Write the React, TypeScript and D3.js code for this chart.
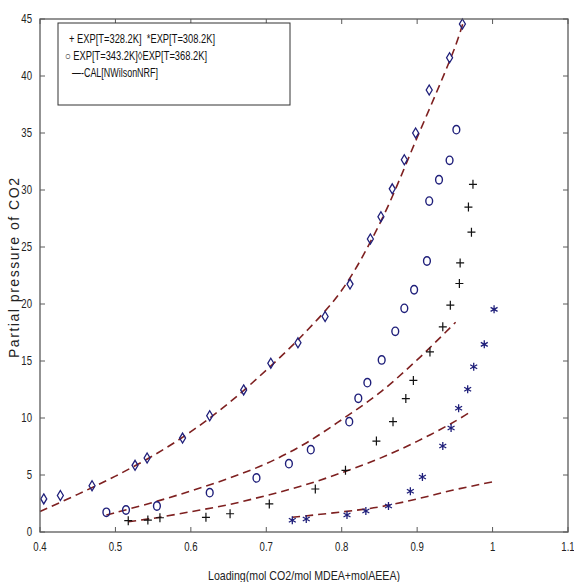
import React from "react";
import * as d3 from "d3";

// Experimental data (loading, partial pressure)
const exp328X = [0.517, 0.543, 0.559, 0.620, 0.652, 0.704, 0.765, 0.805, 0.846, 0.868, 0.885, 0.895, 0.917, 0.934, 0.944, 0.956, 0.957, 0.972, 0.968, 0.974];
const exp328Y = [0.99, 1.05, 1.25, 1.29, 1.6, 2.46, 3.77, 5.41, 7.98, 9.68, 11.7, 13.3, 15.8, 18.0, 19.9, 21.8, 23.6, 26.3, 28.5, 30.5];

const exp308X = [0.7345, 0.753, 0.807, 0.832, 0.862, 0.891, 0.907, 0.934, 0.945, 0.955, 0.967, 0.975, 0.989, 1.002];
const exp308Y = [1.03, 1.14, 1.49, 1.84, 2.28, 3.57, 4.82, 7.54, 9.12, 10.85, 12.52, 14.5, 16.46, 19.53];

const exp343X = [0.488, 0.514, 0.555, 0.625, 0.687, 0.730, 0.759, 0.810, 0.822, 0.834, 0.853, 0.871, 0.883, 0.896, 0.913, 0.916, 0.929, 0.943, 0.952];
const exp343Y = [1.73, 1.93, 2.28, 3.45, 4.74, 5.99, 7.22, 9.68, 11.73, 13.1, 15.09, 17.6, 19.62, 21.25, 23.77, 29.03, 30.9, 32.6, 35.29];

const exp368X = [0.405, 0.427, 0.469, 0.526, 0.542, 0.589, 0.625, 0.670, 0.706, 0.742, 0.778, 0.811, 0.838, 0.852, 0.867, 0.883, 0.898, 0.916, 0.943, 0.960];
const exp368Y = [2.9, 3.2, 4.06, 5.85, 6.49, 8.24, 10.2, 12.46, 14.8, 16.6, 18.9, 21.75, 25.7, 27.65, 30.1, 32.65, 35.0, 38.77, 41.6, 44.56];

// Calculated curves (NWilsonNRF)
const cal368X = [0.40, 0.45, 0.50, 0.55, 0.60, 0.65, 0.70, 0.75, 0.80, 0.85, 0.90, 0.95, 0.962];
const cal368Y = [1.8, 3.3, 4.9, 6.7, 8.8, 11.3, 14.2, 17.4, 21.2, 27.0, 34.6, 42.5, 44.9];
const cal343X = [0.488, 0.50, 0.55, 0.60, 0.65, 0.70, 0.75, 0.80, 0.85, 0.90, 0.951];
const cal343Y = [1.49, 1.7, 2.6, 3.6, 4.7, 6.0, 7.7, 9.85, 12.2, 15.1, 18.4];
const cal328X = [0.517, 0.55, 0.60, 0.65, 0.70, 0.75, 0.80, 0.85, 0.90, 0.95, 0.972];
const cal328Y = [0.9, 1.2, 1.78, 2.4, 3.2, 4.1, 5.2, 6.45, 7.95, 9.7, 10.6];
const cal308X = [0.7345, 0.80, 0.85, 0.90, 0.948, 1.001];
const cal308Y = [1.29, 1.76, 2.2, 2.9, 3.68, 4.41];

const xTicks = [0.4, 0.5, 0.6, 0.7, 0.8, 0.9, 1, 1.1];
const yTicks = [0, 5, 10, 15, 20, 25, 30, 35, 40, 45];

const legendLines = [
  "+ EXP[T=328.2K]  *EXP[T=308.2K]",
  "\u25CB EXP[T=343.2K]\u25CAEXP[T=368.2K]",
  "\u2014-CAL[NWilsonNRF]",
];
const legendX = [69, 65, 72];
const legendLen = [146, 142, 86];

const W = 574, H = 582;
const L = 40, R = 568, T = 19, B = 532;
const NAVY = "#1f1f7a";
const RED = "#7e2020";
const AX = "#5a5a5a";
const FONT = "'Liberation Sans', Arial, sans-serif";

const zip = (xs: number[], ys: number[]) => xs.map((x, i) => [x, ys[i]] as [number, number]);

function NText({ x, y, s, anchor = "start", size = 12, sx = 0.8, fill = "#222" }: any) {
  return (
    <text transform={`translate(${x},${y}) scale(${sx},1)`} textAnchor={anchor} fontFamily={FONT} fontSize={size} fill={fill}>{s}</text>
  );
}

export default function App() {
  const x = d3.scaleLinear().domain([0.4, 1.1]).range([L, R]);
  const y = d3.scaleLinear().domain([0, 45]).range([B, T]);
  const line = d3.line<[number, number]>().x(d => x(d[0])).y(d => y(d[1])).curve(d3.curveCatmullRom.alpha(0.5));
  const cals = [zip(cal368X, cal368Y), zip(cal343X, cal343Y), zip(cal328X, cal328Y), zip(cal308X, cal308Y)];

  return (
    <svg width={W} height={H} style={{ position: "absolute", left: 0, top: 0, background: "#fff" }}>
      <rect x={0} y={0} width={W} height={H} fill="#fff" />
      {/* dashed model curves */}
      {cals.map((c, i) => (
        <path key={i} d={line(c) || ""} fill="none" stroke={RED} strokeWidth={1.6} strokeDasharray="8,5" />
      ))}
      {/* diamonds */}
      {zip(exp368X, exp368Y).map((d, i) => {
        const cx = x(d[0]), cy = y(d[1]);
        return <path key={"d" + i} d={`M${cx},${cy - 5}L${cx + 3},${cy}L${cx},${cy + 5}L${cx - 3},${cy}Z`} fill="none" stroke={NAVY} strokeWidth={1.3} />;
      })}
      {/* circles */}
      {zip(exp343X, exp343Y).map((d, i) => (
        <ellipse key={"c" + i} cx={x(d[0])} cy={y(d[1])} rx={3.4} ry={4.2} fill="none" stroke={NAVY} strokeWidth={1.4} />
      ))}
      {/* plus */}
      {zip(exp328X, exp328Y).map((d, i) => {
        const cx = x(d[0]), cy = y(d[1]);
        return <path key={"p" + i} d={`M${cx - 4},${cy}H${cx + 4}M${cx},${cy - 4.5}V${cy + 4.5}`} stroke="#111" strokeWidth={1.2} />;
      })}
      {/* asterisks */}
      {zip(exp308X, exp308Y).map((d, i) => {
        const cx = x(d[0]), cy = y(d[1]);
        const r = 4;
        const p = `M${cx},${cy - r}V${cy + r}M${cx - r * 0.87},${cy - r * 0.5}L${cx + r * 0.87},${cy + r * 0.5}M${cx - r * 0.87},${cy + r * 0.5}L${cx + r * 0.87},${cy - r * 0.5}`;
        return <path key={"a" + i} d={p} stroke={NAVY} strokeWidth={1.3} />;
      })}
      {/* axes box */}
      <rect x={L} y={T} width={R - L} height={B - T} fill="none" stroke={AX} strokeWidth={1.3} />
      {xTicks.map((t, i) => (
        <g key={"xt" + i}>
          <line x1={x(t)} x2={x(t)} y1={B} y2={B - 5} stroke={AX} />
          <line x1={x(t)} x2={x(t)} y1={T} y2={T + 5} stroke={AX} />
          <NText x={x(t)} y={551} s={String(t)} anchor="middle" />
        </g>
      ))}
      {yTicks.map((t, i) => (
        <g key={"yt" + i}>
          <line x1={L} x2={L + 5} y1={y(t)} y2={y(t)} stroke={AX} />
          <line x1={R} x2={R - 5} y1={y(t)} y2={y(t)} stroke={AX} />
          <NText x={32} y={y(t) + 4} s={String(t)} anchor="end" />
        </g>
      ))}
      {/* legend */}
      <rect x={58} y={23} width={232} height={82} fill="#fff" stroke="#333" strokeWidth={1} />
      {legendLines.map((s, i) => (
        <text key={"l" + i} x={legendX[i]} y={43 + i * 17} fontFamily={FONT} fontSize={12} fill="#111"
          textLength={legendLen[i]} lengthAdjust="spacingAndGlyphs" style={{ whiteSpace: "pre" }}>{s}</text>
      ))}
      {/* axis labels */}
      <text x={304} y={580} textAnchor="middle" fontFamily={FONT} fontSize={13} fill="#222"
        textLength={192} lengthAdjust="spacingAndGlyphs">Loading(mol CO2/mol MDEA+molAEEA)</text>
      <text transform="translate(19,268) rotate(-90)" textAnchor="middle" fontFamily={FONT} fontSize={14} fill="#222"
        textLength={180} lengthAdjust="spacing">Partial pressure of CO2</text>
    </svg>
  );
}
